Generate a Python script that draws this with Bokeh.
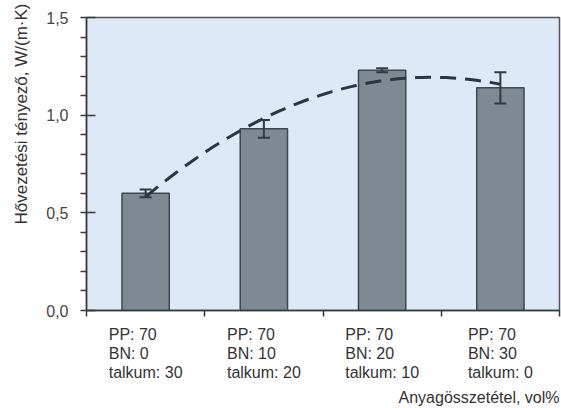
import numpy as np
from bokeh.plotting import figure
from bokeh.models import (Range1d, FixedTicker, CustomJSTickFormatter, Title,
                          Whisker, ColumnDataSource, TeeHead, LinearAxis)
from bokeh.embed import file_html
from bokeh.resources import INLINE

# ---- data ----
pp = [70, 70, 70, 70]
bn = [0, 10, 20, 30]
talkum = [30, 20, 10, 0]
conductivity = [0.60, 0.93, 1.23, 1.14]
error = [0.02, 0.045, 0.01, 0.08]
y_ticks = [0.0, 0.5, 1.0, 1.5]
y_minor = [0.1, 0.2, 0.3, 0.4, 0.6, 0.7, 0.8, 0.9, 1.1, 1.2, 1.3, 1.4]
y_title = "Hővezetési tényező, W/(m·K)"
x_title = "Anyagösszetétel, vol%"

idx = list(range(len(conductivity)))
line1 = [f"PP: {a}" for a in pp]
line2 = [f"BN: {b}" for b in bn]
line3 = [f"talkum: {c}" for c in talkum]

FONT = "Liberation Sans"
DARK = "#333a40"
TXT = "#333333"
LBL_PX = 16
PX_PER_UNIT = 473 / 4.0   # frame width / x span

# approximate Arial/Liberation Sans advance widths (em/1000) to left-align lines
W = {"P": 667, "B": 667, "N": 722, "t": 278, "a": 556, "l": 222, "k": 500,
     "u": 556, "m": 833, ":": 278, " ": 278}
def text_w(s):
    return sum(W.get(ch, 556) for ch in s) / 1000.0 * LBL_PX

p = figure(width=561, height=408, output_backend="svg", toolbar_location=None,
           x_range=Range1d(-0.5, 3.5), y_range=Range1d(0, 1.5),
           x_axis_type=None, y_axis_type=None,
           min_border_left=86, min_border_right=2, min_border_top=17,
           min_border_bottom=96)
p.background_fill_color = "#dde9f6"
p.border_fill_color = "white"
p.outline_line_color = "#555555"
p.outline_line_width = 1.5
p.xgrid.visible = False
p.ygrid.visible = False

# y axis
yax = LinearAxis(ticker=FixedTicker(ticks=y_ticks, minor_ticks=y_minor),
                 formatter=CustomJSTickFormatter(code="return tick.toFixed(1).replace('.', ',');"))
yax.major_tick_in = 9
yax.major_tick_out = 6
yax.minor_tick_in = 0
yax.minor_tick_out = 6
yax.axis_line_color = DARK
yax.axis_line_width = 1.5
yax.major_tick_line_color = DARK
yax.major_tick_line_width = 1.5
yax.minor_tick_line_color = DARK
yax.minor_tick_line_width = 1.5
yax.major_label_text_font = FONT
yax.major_label_text_font_size = "16px"
yax.major_label_text_color = "#444444"
yax.major_label_standoff = 12
p.add_layout(yax, "left")

# x axes: three stacked label rows, left-aligned within each category block
lines = [line1, line2, line3]
block_w = [max(text_w(l[i]) for l in lines) for i in idx]
for row, labels in enumerate(lines):
    shifts = [(-block_w[i] / 2 + text_w(labels[i]) / 2) / PX_PER_UNIT for i in idx]
    ticks = [i + s for i, s in zip(idx, shifts)]
    fmt = CustomJSTickFormatter(args=dict(labels=labels),
                                code="return labels[Math.round(tick)];")
    minor = [i - 0.5 for i in idx] + [idx[-1] + 0.5] if row == 0 else []
    ax = LinearAxis(ticker=FixedTicker(ticks=ticks, minor_ticks=minor), formatter=fmt)
    ax.major_tick_in = 0
    ax.major_tick_out = 0
    ax.minor_tick_in = 0
    ax.minor_tick_out = 6 if row == 0 else 0
    ax.axis_line_color = DARK if row == 0 else None
    ax.axis_line_width = 1.5
    ax.major_tick_line_color = None
    ax.minor_tick_line_color = DARK if row == 0 else None
    ax.minor_tick_line_width = 1.5
    ax.major_label_text_font = FONT
    ax.major_label_text_font_size = f"{LBL_PX}px"
    ax.major_label_text_color = TXT
    ax.major_label_standoff = 9 if row == 0 else -1
    p.add_layout(ax, "below")

# bars
p.vbar(x=idx, top=conductivity, width=0.4, fill_color="#7f8994",
       line_color="#3d4751", line_width=1.5)

# error bars
src = ColumnDataSource(dict(x=idx,
                            upper=[v + e for v, e in zip(conductivity, error)],
                            lower=[v - e for v, e in zip(conductivity, error)]))
w = Whisker(base="x", upper="upper", lower="lower", source=src, level="annotation",
            line_color=DARK, line_width=2,
            upper_head=TeeHead(size=12, line_color=DARK, line_width=2),
            lower_head=TeeHead(size=12, line_color=DARK, line_width=2))
p.add_layout(w)

# quadratic trend line fitted to the bar values
coef = np.polyfit(idx, conductivity, 2)
xs = np.linspace(idx[0], idx[-1], 60)
p.line(xs, np.polyval(coef, xs), line_color="#2b3641", line_width=3,
       line_dash="16 9")

# axis titles
p.add_layout(Title(text=x_title, align="right", text_font=FONT, text_font_size="16px",
                   text_font_style="normal", text_color=TXT, standoff=6), "below")
p.add_layout(Title(text=y_title, align="right", offset=-14, text_font=FONT,
                   text_font_size="17px", text_font_style="normal", text_color=TXT,
                   vertical_align="top", standoff=22), "left")

open("out.html", "w").write(file_html(p, INLINE))
